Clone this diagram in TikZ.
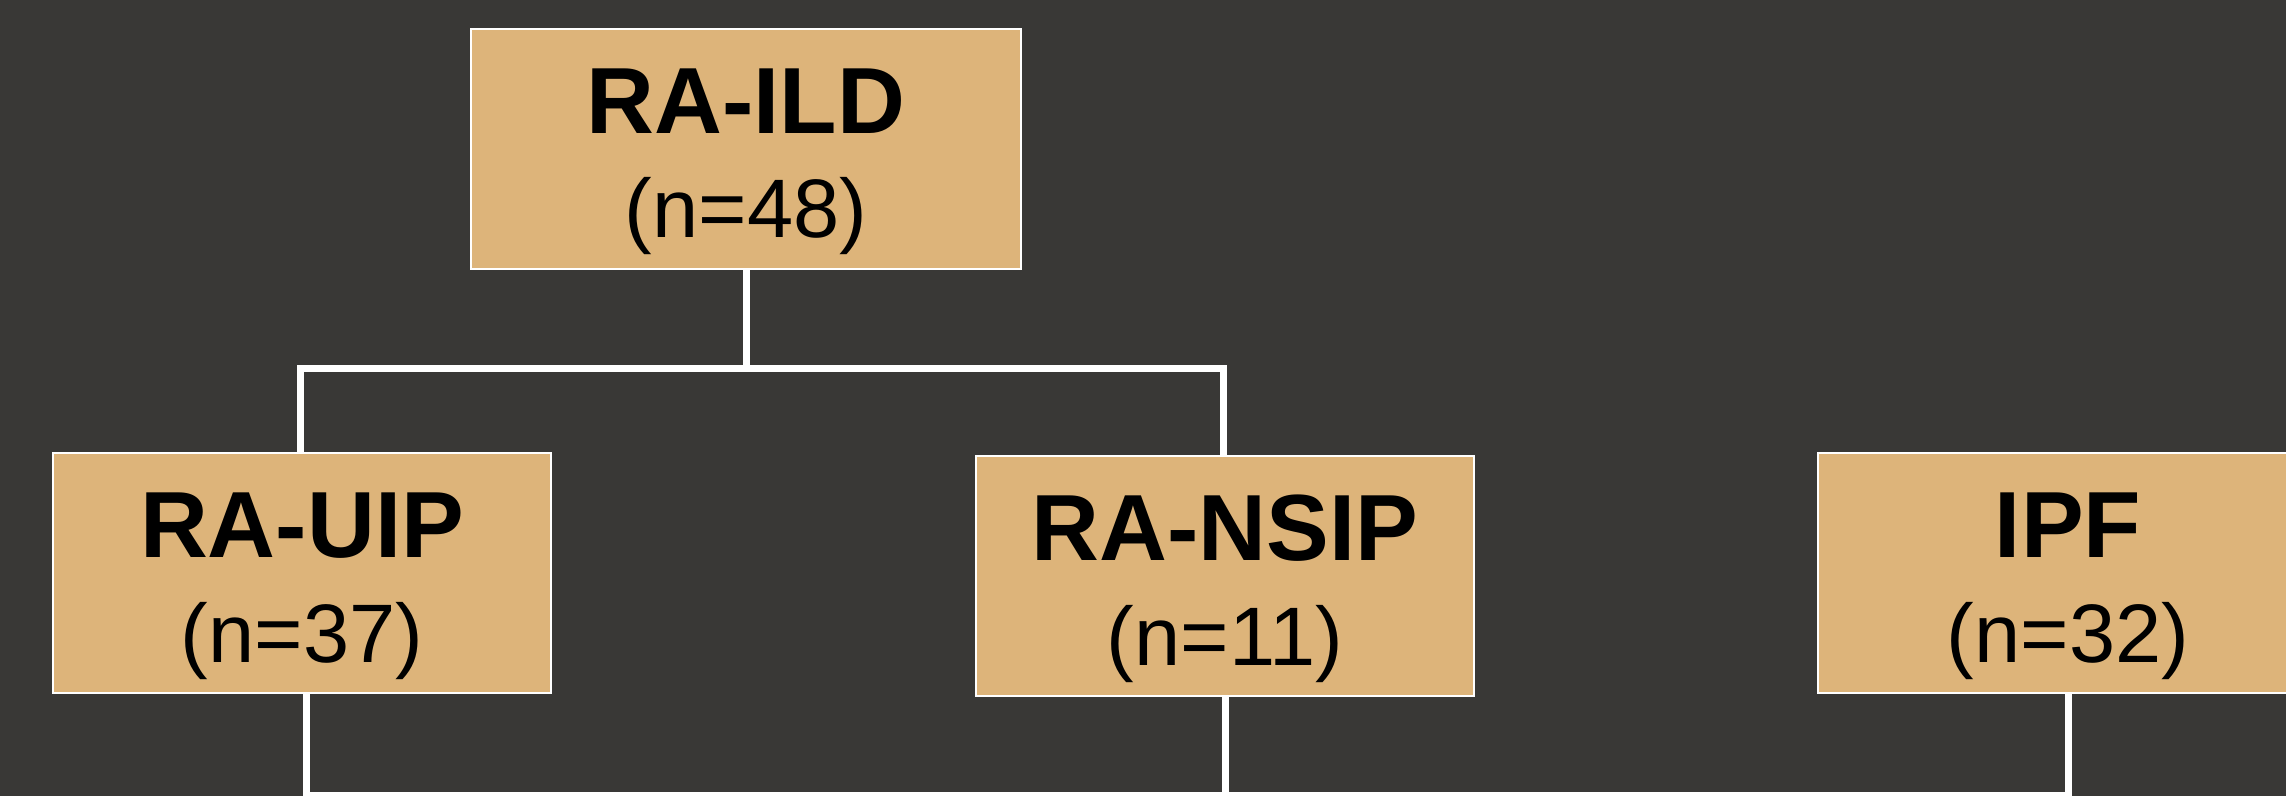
\documentclass[tikz,border=0pt]{standalone}
\usepackage{fontspec}
\setmainfont{Liberation Sans}
\definecolor{bgdark}{RGB}{57,56,54}
\definecolor{boxtan}{RGB}{221,180,122}
\begin{document}
\begin{tikzpicture}[x=1pt,y=-1pt,
  box/.style={draw=white, line width=2pt, fill=boxtan, minimum width=#1,
              minimum height=240pt, inner sep=0pt},
  title/.style={anchor=base, inner sep=0pt, text=black,
                font=\fontsize{94}{100}\selectfont\bfseries},
  count/.style={anchor=base, inner sep=0pt, text=black,
                font=\fontsize{83}{90}\selectfont},
  link/.style={draw=white, line width=7pt, line join=miter}]
  \useasboundingbox (0,0) rectangle (2286,796);
  \fill[bgdark] (0,0) rectangle (2286,796);
  \clip (0,0) rectangle (2286,796);

  % boxes
  \node[box=550pt] (ild)  at (746,149)  {};
  \node[box=498pt] (uip)  at (302,573)  {};
  \node[box=498pt] (nsip) at (1225,576) {};
  \node[box=500pt] (ipf)  at (2068,573) {};

  % labels
  \node[title] (ildT)  at ([yshift=16pt]ild.center)  {RA-ILD};
  \node[count] (ildN)  at ([yshift=-88pt]ild.center) {(n=48)};
  \node[title] (uipT)  at ([yshift=16pt]uip.center)  {RA-UIP};
  \node[count] (uipN)  at ([yshift=-89pt]uip.center) {(n=37)};
  \node[title] (nsipT) at ([yshift=16pt]nsip.center)  {RA-NSIP};
  \node[count] (nsipN) at ([yshift=-89pt]nsip.center) {(n=11)};
  \node[title] (ipfT)  at ([yshift=16pt]ipf.center)  {IPF};
  \node[count] (ipfN)  at ([yshift=-89pt]ipf.center) {(n=32)};

  % connectors
  \coordinate (hub) at (746,368);
  \coordinate (bot) at (1225,795);
  \draw[link] (ild.south) -- (hub);
  \draw[link] ([xshift=-2pt]uip.north) |- (hub) -| ([xshift=-2pt]nsip.north);
  \draw[link] ([xshift=4pt]uip.south) |- (bot) -| (ipf.south);
  \draw[link] (nsip.south) -- (bot);
\end{tikzpicture}
\end{document}
